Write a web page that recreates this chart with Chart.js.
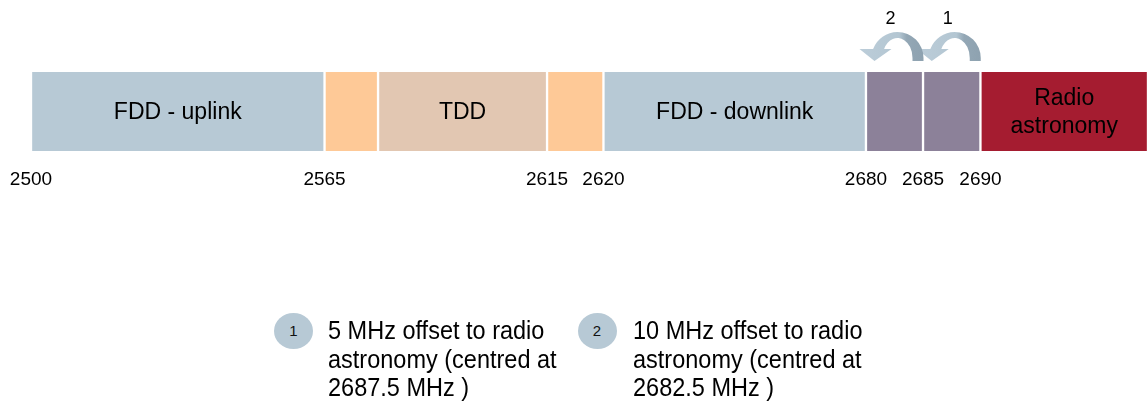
<!DOCTYPE html>
<html lang="en">
<head>
<meta charset="UTF-8">
<title>2.6 GHz band plan</title>
<script src="https://cdn.jsdelivr.net/npm/chart.js@4"></script>
<style>
  * { margin: 0; padding: 0; box-sizing: border-box; }
  body { background: #fff; font-family: 'Liberation Sans', Arial, sans-serif; color: #000; }
  .wrap { position: relative; width: 1148px; height: 403px; overflow: hidden; }
  canvas { position: absolute; left: 0; top: 0; }
  .note-badge {
    position: absolute; width: 39px; height: 36px; border-radius: 50%;
    background: #b7c9d5; color: #111; font-size: 15px; line-height: 35px; text-align: center;
  }
  .note-text {
    position: absolute; font-size: 23.5px; line-height: 26.2px; white-space: pre;
    transform: scaleY(1.1); transform-origin: 0 0;
  }
</style>
</head>
<body>
<div class="wrap" id="wrap">
  <canvas id="bandChart" width="1148" height="403"></canvas>
</div>

<script>
// band plan (MHz)
const bandNames = ['FDD - uplink', '', 'TDD', '', 'FDD - downlink', '', '', 'Radio\nastronomy'];
const bandStart = [2500, 2565, 2570, 2615, 2620, 2680, 2685, 2690];
const bandEnd   = [2565, 2570, 2615, 2620, 2680, 2685, 2690, 2700];
const tickValues = [2500, 2565, 2615, 2620, 2680, 2685, 2690];

// offset notes
const noteLabels = ['1', '2'];
const noteCentres = [2687.5, 2682.5];
const noteTexts = [
    '5 MHz offset to radio\nastronomy (centred at\n2687.5 MHz )',
    '10 MHz offset to radio\nastronomy (centred at\n2682.5 MHz )'
];

const bandColours = ['#b7c9d5', '#fec997', '#e2c7b2', '#fec997', '#b7c9d5', '#8c8199', '#8c8199', '#a51c30'];

// the drawing is not to scale: each band gets its own share of the axis
const axisStops = [...bandStart, bandEnd[bandEnd.length - 1]];
const axisFractions = [0, 0.2628, 0.3107, 0.4620, 0.5125, 0.7475, 0.7986, 0.8500, 1];

class BandScale extends Chart.LinearScale {
    toDecimal(value) {
        let i = 0;
        while (i < axisStops.length - 2 && value > axisStops[i + 1]) i++;
        const t = (value - axisStops[i]) / (axisStops[i + 1] - axisStops[i]);
        return axisFractions[i] + t * (axisFractions[i + 1] - axisFractions[i]);
    }
    getPixelForValue(value) {
        if (value === null || value === undefined) return NaN;
        return this.getPixelForDecimal(this.toDecimal(value));
    }
    getValueForPixel(pixel) {
        const d = this.getDecimalForPixel(pixel);
        let i = 0;
        while (i < axisFractions.length - 2 && d > axisFractions[i + 1]) i++;
        const t = (d - axisFractions[i]) / (axisFractions[i + 1] - axisFractions[i]);
        return axisStops[i] + t * (axisStops[i + 1] - axisStops[i]);
    }
}
BandScale.id = 'bandplan';
BandScale.defaults = Chart.LinearScale.defaults;
Chart.register(BandScale);

const font = '"Liberation Sans", Arial, sans-serif';

const bandTextPlugin = {
    id: 'bandText',
    afterDatasetsDraw(chart) {
        const ctx = chart.ctx;
        ctx.save();
        ctx.font = '23px ' + font;
        ctx.fillStyle = '#000';
        ctx.textAlign = 'center';
        ctx.textBaseline = 'middle';
        bandNames.forEach((name, i) => {
            if (!name) return;
            const bar = chart.getDatasetMeta(i).data[0];
            const cx = (bar.x + bar.base) / 2;
            const lines = name.split('\n');
            lines.forEach((t, k) => {
                ctx.fillText(t, cx, bar.y + 1 + (k - (lines.length - 1) / 2) * 27.5);
            });
        });
        ctx.restore();
    }
};

const offsetArrowPlugin = {
    id: 'offsetArrows',
    afterDraw(chart) {
        const { ctx, chartArea, scales: { x } } = chart;
        noteCentres.forEach((v, i) => {
            const ax = x.getPixelForValue(v) - 3;
            const cx = ax + 6, cy = chartArea.top - 14;
            const Rx = 26, Ry = 26, rx = 15, ry = 20;
            const baseY = cy - 9;
            const aOut = -Math.PI + Math.asin((cy - baseY) / Ry);
            const aIn = -Math.PI + Math.asin((cy - baseY) / ry);

            const grad = ctx.createLinearGradient(ax - 32, 0, ax + 32, 0);
            grad.addColorStop(0, '#bccdd9');
            grad.addColorStop(0.62, '#b3c6d2');
            grad.addColorStop(0.74, '#93a7b5');
            grad.addColorStop(1, '#8ea2b0');

            ctx.save();
            ctx.beginPath();
            ctx.moveTo(cx + Rx, cy + 3);
            ctx.lineTo(cx + Rx, cy);
            ctx.ellipse(cx, cy, Rx, Ry, 0, 0, aOut, true);
            ctx.lineTo(ax - 32, baseY);
            ctx.lineTo(ax - 17, cy + 3);
            ctx.lineTo(ax, baseY);
            ctx.ellipse(cx, cy, rx, ry, 0, aIn, 0, false);
            ctx.lineTo(cx + rx, cy + 3);
            ctx.closePath();
            ctx.fillStyle = grad;
            ctx.fill();

            ctx.font = '18px ' + font;
            ctx.fillStyle = '#000';
            ctx.textAlign = 'center';
            ctx.textBaseline = 'middle';
            ctx.fillText(noteLabels[i], ax - 1, 19);
            ctx.restore();
        });
    }
};

new Chart(document.getElementById('bandChart'), {
    type: 'bar',
    data: {
        labels: ['plan'],
        datasets: bandNames.map((name, i) => ({
            label: name || 'guard',
            data: [[bandStart[i], bandEnd[i]]],
            backgroundColor: bandColours[i],
            borderColor: '#ffffff',
            borderWidth: { left: 1.5, right: 1.5, top: 0, bottom: 0 },
            borderSkipped: false,
            barPercentage: 1,
            categoryPercentage: 1,
            grouped: false
        }))
    },
    options: {
        indexAxis: 'y',
        responsive: false,
        animation: false,
        layout: { padding: { top: 72, left: 31, right: 0, bottom: 0 } },
        plugins: {
            legend: { display: false },
            tooltip: { enabled: false }
        },
        scales: {
            x: {
                type: 'bandplan',
                min: 2500,
                max: 2700,
                grid: { display: false, drawTicks: false },
                border: { display: false },
                ticks: {
                    color: '#000',
                    font: { size: 19, family: font },
                    padding: 17,
                    maxRotation: 0,
                    autoSkip: false,
                    callback: (v) => String(v)
                },
                afterBuildTicks: (scale) => {
                    scale.ticks = tickValues.map(v => ({ value: v }));
                },
                afterFit: (scale) => {
                    scale.height = 252;
                    scale.paddingLeft = 0;
                    scale.paddingRight = 0;
                }
            },
            y: { display: false }
        }
    },
    plugins: [bandTextPlugin, offsetArrowPlugin]
});

// notes under the chart
const badgeLeft = [274, 577.5];
const textLeft = [328, 633];
const wrap = document.getElementById('wrap');
noteLabels.forEach((lab, i) => {
    const badge = document.createElement('div');
    badge.className = 'note-badge';
    badge.style.left = badgeLeft[i] + 'px';
    badge.style.top = '312.5px';
    badge.textContent = lab;
    wrap.appendChild(badge);

    const txt = document.createElement('div');
    txt.className = 'note-text';
    txt.style.left = textLeft[i] + 'px';
    txt.style.top = '315.6px';
    txt.textContent = noteTexts[i];
    wrap.appendChild(txt);
});
</script>
</body>
</html>
